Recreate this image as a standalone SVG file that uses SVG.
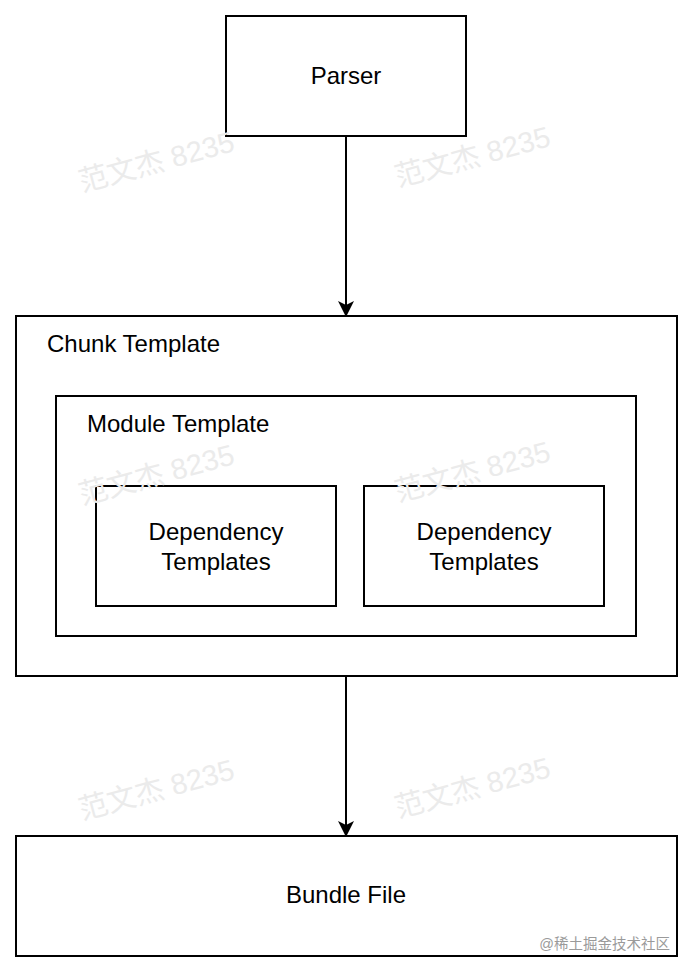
<svg xmlns="http://www.w3.org/2000/svg" width="694" height="974" viewBox="0 0 694 974">
<style>
.box{fill:#fff;stroke:#000;stroke-width:2}
.lbl{font-family:"Liberation Sans",Arial,sans-serif;font-size:24px;fill:#000}
.c{text-anchor:middle}
.wm{font-family:"Liberation Sans","Noto Sans CJK SC",sans-serif;font-size:29px;fill:#ebebeb}
.edge{stroke:#000;stroke-width:2;fill:none}
</style>
<defs>
<marker id="ah" markerWidth="16" markerHeight="16" refX="14" refY="8" orient="auto" markerUnits="userSpaceOnUse">
<path d="M0,0 L16,8 L0,16 L4,8 Z" fill="#000"/>
</marker>
</defs>
<rect width="694" height="974" fill="#fff"/>
<g id="parser"><rect class="box" x="226" y="16" width="240" height="120"/><text class="lbl c" x="346" y="84">Parser</text></g>
<g id="chunk"><rect class="box" x="16" y="316" width="661" height="360"/><text class="lbl" x="47" y="352">Chunk Template</text></g>
<g id="module"><rect class="box" x="56" y="396" width="580" height="240"/><text class="lbl" x="87" y="432">Module Template</text></g>
<g id="dep1"><rect class="box" x="96" y="486" width="240" height="120"/><text class="lbl c" x="216" y="540">Dependency</text><text class="lbl c" x="216" y="570">Templates</text></g>
<g id="dep2"><rect class="box" x="364" y="486" width="240" height="120"/><text class="lbl c" x="484" y="540">Dependency</text><text class="lbl c" x="484" y="570">Templates</text></g>
<g id="bundle"><rect class="box" x="16" y="836" width="661" height="120"/><text class="lbl c" x="346" y="903">Bundle File</text></g>
<g id="connectors">
<line class="edge" x1="346" y1="137" x2="346" y2="315" marker-end="url(#ah)"/>
<line class="edge" x1="346" y1="677" x2="346" y2="835" marker-end="url(#ah)"/>
</g>
<g id="watermarks">
<text class="wm" transform="translate(82,192) rotate(-15)">范文杰 8235</text>
<text class="wm" transform="translate(398,187) rotate(-15)">范文杰 8235</text>
<text class="wm" transform="translate(82,505) rotate(-15)">范文杰 8235</text>
<text class="wm" transform="translate(398,502) rotate(-15)">范文杰 8235</text>
<text class="wm" transform="translate(82,820) rotate(-15)">范文杰 8235</text>
<text class="wm" transform="translate(398,818) rotate(-15)">范文杰 8235</text>
</g>
<text x="670" y="949" text-anchor="end" font-family="'Liberation Sans','Noto Sans CJK SC',sans-serif" font-size="14.5" fill="#9a9a9a">@稀土掘金技术社区</text>
</svg>
